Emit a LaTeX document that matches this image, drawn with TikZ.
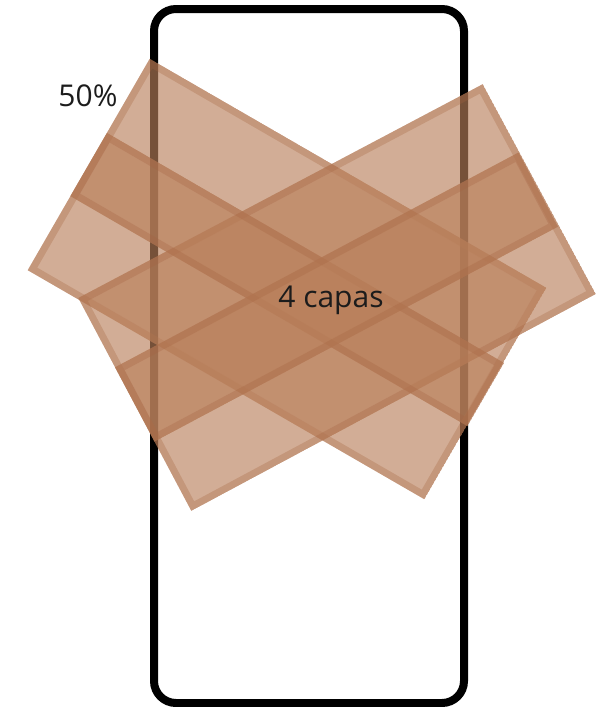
\documentclass[tikz,border=0pt]{standalone}
\usepackage{fontspec}
\setmainfont{Open Sans}
\definecolor{layerbrown}{RGB}{185,127,90}
\definecolor{edgebrown}{RGB}{165,100,65}
\definecolor{labelgray}{RGB}{28,28,28}

\begin{document}
\begin{tikzpicture}[x=1pt, y=-1pt,
    phone/.style={draw=black, line width=8pt, rounded corners=22pt},
    layerfill/.style={fill=layerbrown, fill opacity=0.64},
    layeredge/.style={draw=edgebrown, draw opacity=0.3, line width=14pt, line join=miter},
    caption/.style={text=labelgray, inner sep=0pt, font=\fontsize{30}{34}\selectfont}]
  \useasboundingbox (0,0) rectangle (608,707);
  % phone outline
  \draw[phone] (154,9) rectangle (464,703);
  % wide layer going down to the right
  \coordinate (a1) at (149.7,58.8);
  \coordinate (a2) at (546.3,287.8);
  \coordinate (a3) at (424.3,499.2);
  \coordinate (a4) at (27.7,270.2);
  % wide layer going up to the right
  \coordinate (b1) at (482.7,84.2);
  \coordinate (b2) at (595.7,294.0);
  \coordinate (b3) at (191.3,510.8);
  \coordinate (b4) at (78.3,298.0);
  % narrow band inside the first one
  \coordinate (c1) at (107.0,132.9);
  \coordinate (c2) at (504.0,362.9);
  \coordinate (c3) at (467.4,426.1);
  \coordinate (c4) at (70.4,196.1);
  % narrow band inside the second one
  \coordinate (d1) at (518.5,152.5);
  \coordinate (d2) at (557.9,226.7);
  \coordinate (d3) at (154.5,441.5);
  \coordinate (d4) at (115.1,367.3);
  \begin{scope}
    \clip (a1) -- (a2) -- (a3) -- (a4) -- cycle;
    \path[layerfill] (a1) -- (a2) -- (a3) -- (a4) -- cycle;
    \path[layeredge] (a1) -- (a2) -- (a3) -- (a4) -- cycle;
  \end{scope}
  \begin{scope}
    \clip (b1) -- (b2) -- (b3) -- (b4) -- cycle;
    \path[layerfill] (b1) -- (b2) -- (b3) -- (b4) -- cycle;
    \path[layeredge] (b1) -- (b2) -- (b3) -- (b4) -- cycle;
  \end{scope}
  \begin{scope}
    \clip (c1) -- (c2) -- (c3) -- (c4) -- cycle;
    \path[layerfill] (c1) -- (c2) -- (c3) -- (c4) -- cycle;
    \path[layeredge] (c1) -- (c2) -- (c3) -- (c4) -- cycle;
  \end{scope}
  \begin{scope}
    \clip (d1) -- (d2) -- (d3) -- (d4) -- cycle;
    \path[layerfill] (d1) -- (d2) -- (d3) -- (d4) -- cycle;
    \path[layeredge] (d1) -- (d2) -- (d3) -- (d4) -- cycle;
  \end{scope}
  % labels
  \node[caption] (opacidad) at (88,96) {50\%};
  \node[caption] (capas) at (331,300) {4 capas};
\end{tikzpicture}
\end{document}
